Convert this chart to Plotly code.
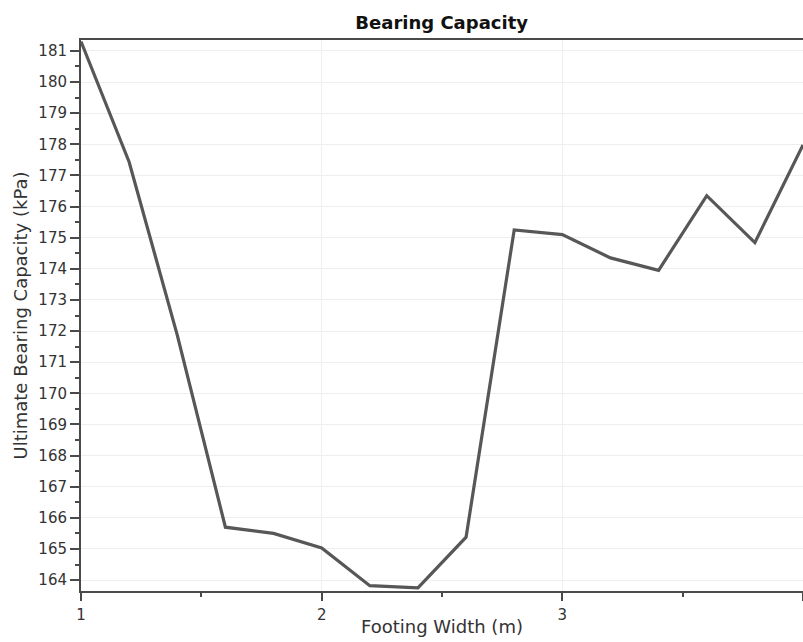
import plotly.graph_objects as go

footing_width = [1.0, 1.2, 1.4, 1.6, 1.8, 2.0, 2.2, 2.4, 2.6, 2.8, 3.0, 3.2, 3.4, 3.6, 3.8, 4.0]
bearing_capacity = [181.3, 177.43, 171.87, 165.7, 165.5, 165.03, 163.82, 163.75, 165.38,
                    175.25, 175.1, 174.35, 173.95, 176.35, 174.84, 177.98]

fig = go.Figure()
fig.add_trace(go.Scatter(
    x=footing_width, y=bearing_capacity, mode="lines",
    line=dict(color="#575757", width=3.2),
    showlegend=False,
))

tick_font = dict(family="DejaVu Sans", size=15, color="#333333")
axis_title_font = dict(family="DejaVu Sans", size=18, color="#333333")

fig.update_layout(
    width=803, height=642,
    margin=dict(l=81, r=0, t=40, b=51),
    paper_bgcolor="white", plot_bgcolor="white",
    title=dict(text="<b>Bearing Capacity</b>", x=0.55, xanchor="center",
               y=1 - 23 / 642, yanchor="middle", yref="container",
               font=dict(family="DejaVu Sans", size=18, color="#111111")),
    annotations=[dict(text="Footing Width (m)", xref="paper", yref="paper",
                      x=0.5, y=-(626 - 591) / 551, xanchor="center", yanchor="middle",
                      showarrow=False, font=axis_title_font)],
)
fig.update_xaxes(
    range=[1, 4], dtick=1, tick0=1,
    showline=True, linecolor="#4a4a4a", linewidth=2, mirror=True,
    ticks="outside", ticklen=8, tickwidth=2, tickcolor="#4a4a4a",
    ticklabelstandoff=1,
    showgrid=True, gridcolor="#eeeeee", gridwidth=1,
    zeroline=False, tickfont=tick_font,
    minor=dict(dtick=0.5, ticks="outside", ticklen=4, tickwidth=2, tickcolor="#4a4a4a", showgrid=False),
)
fig.update_yaxes(
    range=[163.65, 181.35], dtick=1, tick0=164,
    showline=True, linecolor="#4a4a4a", linewidth=2,
    ticks="outside", ticklen=9, tickwidth=2, tickcolor="#4a4a4a",
    showgrid=True, gridcolor="#eeeeee", gridwidth=1,
    zeroline=False, tickfont=tick_font,
    minor=dict(dtick=0.5, ticks="outside", ticklen=4, tickwidth=2, tickcolor="#4a4a4a", showgrid=False),
    title=dict(text="Ultimate Bearing Capacity (kPa)", font=axis_title_font, standoff=6),
)

fig.write_html("out.html")
